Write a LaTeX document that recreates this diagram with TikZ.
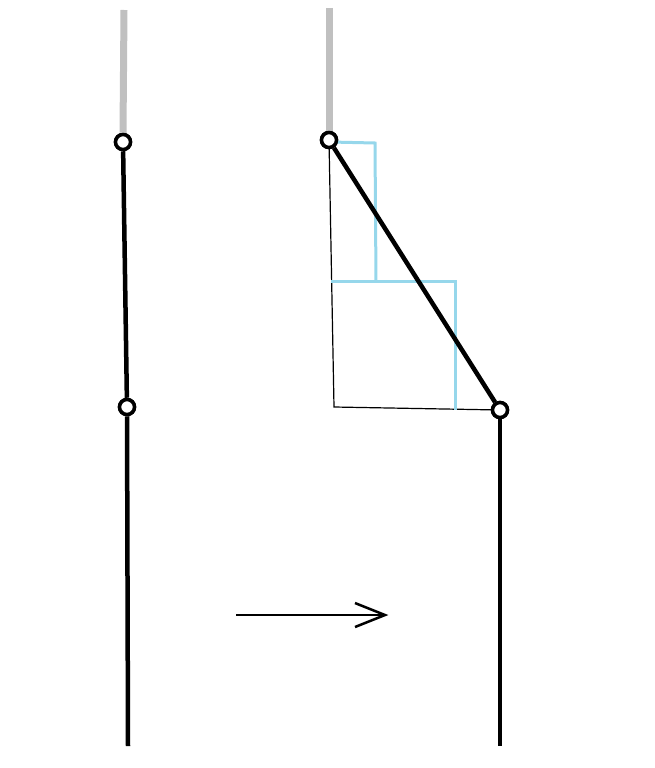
\documentclass[tikz,border=0pt]{standalone}
\definecolor{rodgray}{RGB}{192,192,192}
\definecolor{lightcyan}{RGB}{150,215,235}
\tikzset{
  joint/.style={circle,draw=black,line width=3.5pt,fill=white,minimum size=15pt,inner sep=0pt},
  rodline/.style={line width=4.5pt,black},
  grayline/.style={line width=7pt,rodgray},
  thinline/.style={line width=1.2pt,black},
  cyanline/.style={line width=3pt,lightcyan},
}
\begin{document}
\begin{tikzpicture}[x=1pt,y=-1pt]
\useasboundingbox (0,0) rectangle (654,768);
% left chain
\coordinate (ltop) at (124,10);
\coordinate (lbot) at (128,746);
\node[joint] (l1) at (123,142) {};
\node[joint] (l2) at (127,407) {};
\draw[grayline] (ltop) -- (l1.north);
\draw[rodline] (l1) -- (l2);
\draw[rodline] (l2) -- (lbot);
\node[joint] at (123,142) {};
\node[joint] at (127,407) {};
% right chain
\coordinate (rtop) at (329,8);
\coordinate (rbot) at (500,746);
\coordinate (c1) at (334,407);
\coordinate (b1) at (330,142);
\coordinate (b2) at (375,143);
\coordinate (b3) at (376,282);
\coordinate (b4) at (331,281);
\coordinate (b5) at (455,281);
\coordinate (b6) at (455,410);
\node[joint] (r1) at (329,140) {};
\node[joint] (r2) at (500,410) {};
\draw[grayline] (rtop) -- (r1.north);
\draw[thinline] (r1.center) -- (c1) -- (r2.center);
\draw[cyanline] (b1) -- (b2) -- (b3);
\draw[cyanline] (b4) -- (b5) -- (b6);
\draw[rodline] (r1) -- (r2);
\draw[rodline] (r2) -- (rbot);
\node[joint] at (329,140) {};
\node[joint] at (500,410) {};
% arrow
\coordinate (a1) at (236,615);
\coordinate (a2) at (385,615);
\coordinate (h1) at (355,603);
\coordinate (h2) at (355,627);
\draw[line width=2.5pt] (a1) -- (a2);
\draw[line width=2.5pt] (h1) -- (a2) -- (h2);
\end{tikzpicture}
\end{document}
